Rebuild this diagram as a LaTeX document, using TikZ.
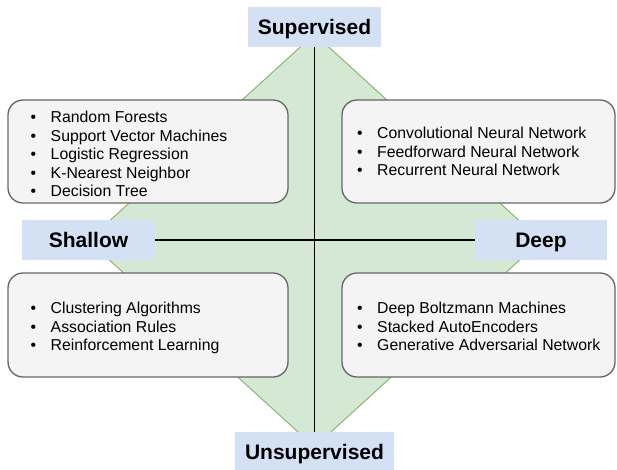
\documentclass[tikz,border=0pt]{standalone}
\usepackage{fontspec}
\setmainfont{Liberation Sans}
\definecolor{dfill}{HTML}{D5E8D4}
\definecolor{ddraw}{HTML}{82B366}
\definecolor{lblue}{HTML}{D4E1F5}
\definecolor{bfill}{HTML}{F4F4F4}
\definecolor{bdraw}{HTML}{666666}
\tikzset{
  catbox/.style={draw=bdraw, fill=bfill, line width=1.3pt, rounded corners=15pt, inner sep=0pt},
  axislabel/.style={fill=lblue, inner sep=0pt, text height=15pt, text depth=0pt, font=\fontsize{21}{24}\selectfont\bfseries},
  listtext/.style={inner sep=0pt, anchor=base west, font=\fontsize{15.8}{18.5}\selectfont},
  axis/.style={line width=1.3pt, black},
}
\newcommand{\blist}[1]{\begin{tabular}[t]{@{}l@{\hspace{14.5pt}}l@{}}#1\end{tabular}}
\begin{document}
\begin{tikzpicture}[x=1pt,y=-1pt]
\useasboundingbox (0,0) rectangle (617,469);
\clip (0,0) rectangle (617,469);
% diamond
\coordinate (dt) at (314.5,34);
\coordinate (dr) at (541,240.5);
\coordinate (db) at (314.5,447);
\coordinate (dl) at (88,240.5);
\draw[draw=ddraw, fill=dfill, line width=0.9pt] (dt) -- (dr) -- (db) -- (dl) -- cycle;
% boxes
\node[catbox, minimum width=280pt, minimum height=103pt] (tl) at (148,151.5) {};
\node[catbox, minimum width=273pt, minimum height=103pt] (tr) at (478.5,151.5) {};
\node[catbox, minimum width=280pt, minimum height=104pt] (bl) at (148,325) {};
\node[catbox, minimum width=273pt, minimum height=104pt] (br) at (478.5,325) {};
% lists
\node[listtext] (tll) at (30.5,122.5) {\blist{•&Random Forests\\•&Support Vector Machines\\•&Logistic Regression\\•&K-Nearest Neighbor\\•&Decision Tree}};
\node[listtext] (trl) at (357,138.5) {\blist{•&Convolutional Neural Network\\•&Feedforward Neural Network\\•&Recurrent Neural Network}};
\node[listtext] (bll) at (30.5,313.5) {\blist{•&Clustering Algorithms\\•&Association Rules\\•&Reinforcement Learning}};
\node[listtext] (brl) at (357,313.5) {\blist{•&Deep Boltzmann Machines\\•&Stacked AutoEncoders\\•&Generative Adversarial Network}};
% axis labels
\node[axislabel, minimum width=133pt, minimum height=40pt] (sup) at (314.5,27) {Supervised};
\node[axislabel, minimum width=159pt, minimum height=40pt] (unsup) at (314.5,452) {Unsupervised};
\node[axislabel, minimum width=133pt, minimum height=40pt] (shallow) at (88.5,240) {Shallow};
\node[axislabel, minimum width=132pt, minimum height=40pt] (deep) at (541,240) {Deep};
% axes
\draw[axis] (sup) -- (unsup);
\draw[axis] (shallow) -- (deep);
\end{tikzpicture}
\end{document}
